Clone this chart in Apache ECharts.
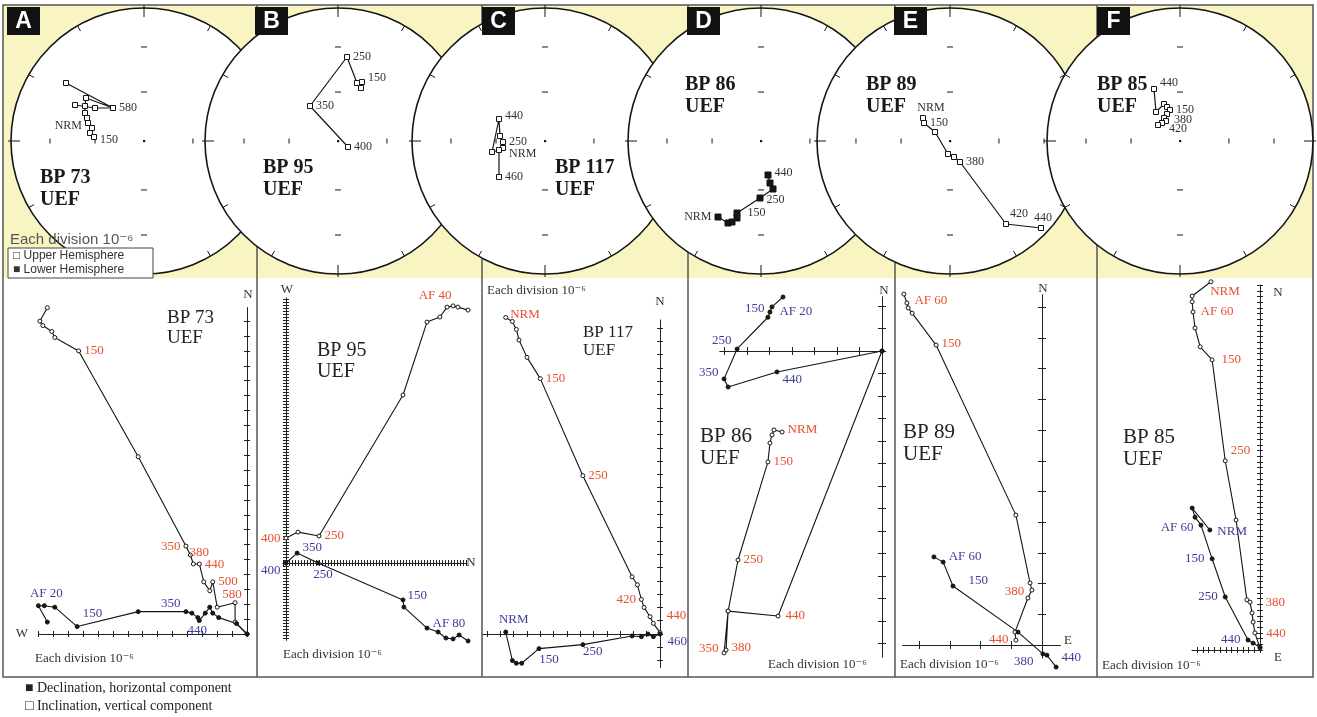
<!DOCTYPE html>
<html><head><meta charset="utf-8">
<script src="https://cdn.jsdelivr.net/npm/echarts@6/dist/echarts.min.js"></script>
<style>html,body{margin:0;padding:0;background:#fff}#c{width:1317px;height:717px}</style>
</head><body><div id="c"></div>
<script>
// ================= DATA =================
const panelLetters = ['A','B','C','D','E','F'];
const sampleNames = ['BP 73','BP 95','BP 117','BP 86','BP 89','BP 85'];
const siteName = 'UEF';
const divisionText = 'Each division 10\u207B\u2076';
const legendUpper = '\u25A1 Upper Hemisphere';
const legendLower = '\u25A0 Lower Hemisphere';
const legendDecl = '\u25A0 Declination, horizontal component';
const legendIncl = '\u25A1 Inclination, vertical component';

// ---- stereonets (equal-area positions, frame radius 133) ----
const stereoA = [[-78,58],[-31,33],[-58,43],[-59,35],[-59,28],[-57,23],[-56,18],[-52,13],[-54,8],[-50,4]];
const stereoA2 = [[-69,36],[-49,33],[-31,33]];
const stereoALabels = [[1,'580'],[6,'NRM'],[9,'150']];
const stereoB = [[23,53],[24,59],[19,58],[9,84],[-28,35],[10,-6]];
const stereoBLabels = [[1,'150'],[3,'250'],[4,'350'],[5,'400']];
const stereoC = [[-42,-7],[-42,-1],[-45,5],[-46,22],[-53,-11],[-46,-9],[-46,-36]];
const stereoCLabels = [[0,'NRM'],[1,'250'],[3,'440'],[6,'460']];
const stereoD = [[-43,-76],[-33,-82],[-29,-81],[-24,-77],[-24,-72],[-1,-57],[12,-48],[9,-42],[7,-34]];
const stereoDLabels = [[0,'NRM'],[4,'150'],[5,'250'],[8,'440']];
const stereoE = [[-27,23],[-26,18],[-15,9],[-2,-13],[4,-16],[10,-21],[56,-83],[91,-87]];
const stereoELabels = [[0,'NRM'],[1,'150'],[5,'380'],[6,'420'],[7,'440']];
const stereoF = [[-26,52],[-24,29],[-16,37],[-13,34],[-10,31],[-13,27],[-16,23],[-14,20],[-18,18],[-22,16]];
const stereoFLabels = [[0,'440'],[4,'150'],[7,'380'],[9,'420']];

// ---- Zijderveld diagrams (units = divisions) ----
const aVert = [[-13.4,21.9],[-13.9,21.0],[-13.7,20.7],[-13.1,20.3],[-12.9,19.9],[-11.3,19.0],[-7.3,11.9],[-4.1,5.9],[-3.8,5.3],[-3.6,4.7],[-3.2,4.7],[-2.9,3.5],[-2.5,2.9],[-2.3,3.5],[-2.0,1.8],[-0.8,2.1],[-0.8,0.8],[0,0]];
const aVertLabels = [[5,'150'],[7,'350'],[9,'380'],[10,'440'],[13,'500'],[15,'580']];
const aHor = [[-13.4,0.8],[-14.0,1.9],[-13.6,1.9],[-12.9,1.8],[-11.4,0.5],[-7.3,1.5],[-4.1,1.5],[-3.7,1.4],[-3.3,1.1],[-3.2,0.9],[-2.8,1.4],[-2.5,1.8],[-2.3,1.4],[-1.9,1.1],[-0.7,0.7],[0,0]];
const aHorLabels = [[1,'AF 20'],[4,'150'],[6,'350'],[9,'440']];

const bVert = [[60.7,84.3],[57.3,85.3],[55.7,85.7],[53.7,85.3],[51.3,82],[47,80.3],[39,56],[11,9],[4,10.3],[0,8.3]];
const bVertLabels = [[3,'AF 40'],[7,'250'],[9,'400']];
const bHor = [[60.7,-26],[57.7,-24],[55.7,-25.3],[53.3,-25],[50.7,-23],[47,-21.7],[39.3,-14.7],[39,-12.3],[10.7,0],[3.7,3.3],[0,0]];
const bHorLabels = [[5,'AF 80'],[7,'150'],[8,'250'],[9,'350'],[10,'400']];

const cVert = [[-11.6,23.8],[-11.1,23.5],[-10.8,22.9],[-10.6,22.1],[-10.0,20.8],[-9.0,19.2],[-5.8,11.9],[-2.1,4.3],[-1.7,3.7],[-1.4,2.6],[-1.2,2.0],[-0.75,1.3],[-0.5,0.8],[0,0.1]];
const cVertLabels = [[0,'NRM'],[5,'150'],[6,'250'],[9,'420'],[12,'440']];
const cHor = [[-11.6,0.15],[-11.1,-2.0],[-10.8,-2.2],[-10.4,-2.2],[-9.1,-1.1],[-5.8,-0.8],[-2.1,-0.15],[-1.4,-0.2],[-0.9,0],[-0.5,-0.2],[0,0]];
const cHorLabels = [[0,'NRM'],[4,'150'],[5,'250'],[10,'460']];

const dHor = [[-4.4,2.4],[-4.89,1.96],[-4.98,1.73],[-5.07,1.5],[-6.44,0.09],[-7.02,-1.24],[-6.84,-1.6],[-4.67,-0.93],[0,0]];
const dHorLabels = [[1,'150'],[2,'AF 20'],[4,'250'],[5,'350'],[7,'440']];
const dVert = [[-4.44,-3.6],[-4.8,-3.51],[-4.89,-3.73],[-4.98,-4.09],[-5.07,-4.93],[-6.4,-9.29],[-6.84,-11.56],[-7.02,-13.42],[-6.93,-13.29],[-6.84,-11.56],[-4.62,-11.78],[0,0]];
const dVertLabels = [[0,'NRM'],[4,'150'],[5,'250'],[7,'350'],[8,'380'],[10,'440']];

const eVert = [[-4.5,11.43],[-4.4,11.14],[-4.36,10.98],[-4.23,10.81],[-3.45,9.77],[-0.85,4.23],[-0.39,2.02],[-0.33,1.79],[-0.46,1.53],[-0.88,0.42],[-0.85,0.16]];
const eVertLabels = [[1,'AF 60'],[4,'150'],[7,'380'],[10,'440']];
const eHor = [[-3.52,2.87],[-3.22,2.7],[-2.9,1.92],[-0.78,0.42],[0.03,-0.29],[0.16,-0.33],[0.46,-0.72]];
const eHorLabels = [[1,'AF 60'],[2,'150'],[4,'380'],[6,'440']];

const fVert = [[-8.6,64.6],[-11.9,62.1],[-11.9,61.1],[-11.75,59.3],[-11.4,56.5],[-10.5,53.2],[-8.4,50.9],[-6.1,33.2],[-4.2,22.8],[-2.3,8.8],[-1.75,8.4],[-1.4,6.5],[-1.2,4.9],[-0.9,3.0],[0,0.35]];
const fVertLabels = [[0,'NRM'],[3,'AF 60'],[6,'150'],[7,'250'],[10,'380'],[13,'440']];
const fHor = [[-8.8,21.05],[-11.9,24.9],[-11.4,23.3],[-10.35,21.9],[-8.4,16.0],[-6.1,9.3],[-2.1,1.75],[-1.2,1.2],[0,0.5]];
const fHorLabels = [[0,'NRM'],[3,'AF 60'],[4,'150'],[5,'250'],[6,'440']];

// axis extents (divisions)
const zijXRange = [[-14,0],[-1,60.3],[-13.3,0.2],[-7.2,0],[-4.53,0.59],[-11.9,0.3]];
const zijYRange = [[0,21.9],[-25.7,88.3],[-2.5,23.6],[-13.6,2.4],[-0.42,11.4],[0,64]];
const zijAxisNames = [[['N','y'],['W','x']],[['W','y'],['N','x']],[['N','y']],[['N','y']],[['N','y'],['E','x']],[['N','y'],['E','x']]];

// ================= LAYOUT / STYLE =================
const SERIF = '"Liberation Serif","DejaVu Serif",serif';
const SANS = '"Liberation Sans","DejaVu Sans",sans-serif';
const RED = '#e8502f', BLUE = '#3c3d98', INK = '#151515';
const YELLOW = '#f9f5c3';
const CX = [144,338,545,761,950,1180], CY = 141, R = 133;
const DIVIDERS = [257,482,688,895,1097];
// Zijderveld origin (px) and px per division, tick length
const ZLAY = [
  {ox:247, oy:634, u:14.9, tl:3},
  {ox:286, oy:563, u:3,    tl:3},
  {ox:660, oy:634, u:13.3, tl:3},
  {ox:882, oy:351, u:22.5, tl:4},
  {ox:1042,oy:645, u:30.7, tl:4},
  {ox:1260,oy:650, u:5.7,  tl:3}
];
const stereoPlace = {
  A:[['right',0,0],['left',0,3],['right',0,3]],
  B:[['right',0,-4],['right',0,0],['right',0,0],['right',0,0]],
  C:[['right',0,6],['right',0,0],['right',0,-3],['right',0,0]],
  D:[['left',0,0],['right',4,0],['right',0,2],['right',0,-2]],
  E:[['top',8,2],['right',0,0],['right',0,0],['top',13,2],['top',2,2]],
  F:[['right',0,-6],['right',0,0],['right',2,-1],['right',5,4]]
};
const zijPlace = {
  aVert:[['right',0,0],['left',0,0],['top',6,1],['right',0,1],['right',0,0],['top',-3,4]],
  aHor:[['top',8,0],['right',0,-13],['left',0,-8],['bottom',-2,-2]],
  bVert:[['top',-12,0],['right',0,0],['left',0,0]],
  bHor:[['right',0,-5],['right',-1,-4],['bottom',5,0],['right',0,-6],['left',0,8]],
  cVert:[['right',-1,-3],['right',0,0],['right',0,0],['left',0,0],['right',8,-8]],
  cHor:[['top',8,0],['bottom',10,-1],['bottom',10,-5],['right',2,8]],
  dHor:[['left',-2,2],['right',4,0],['left',0,-8],['left',0,-6],['right',0,8]],
  dVert:[['right',0,-2],['right',0,0],['right',0,0],['left',0,-4],['right',0,-2],['right',2,0]],
  eVert:[['right',2,-2],['right',0,-1],['left',-2,2],['left',-2,-1]],
  eHor:[['right',0,-6],['right',10,-5],['left',-4,8],['right',0,-10]],
  fVert:[['bottom',14,-2],['right',2,0],['right',4,0],['right',0,-10],['right',10,0],['right',6,1]],
  fHor:[['right',2,2],['left',-2,2],['left',-2,0],['left',-2,0],['left',-2,0]]
};

function withLabels(points, labels, places, color, size) {
  return points.map((p, i) => {
    const k = labels.findIndex(l => l[0] === i);
    if (k < 0) return p;
    const pl = places[k] || ['right',0,0];
    return {value: p, label: {show: true, formatter: labels[k][1], position: pl[0], offset: [pl[1], pl[2]],
      distance: 3, color: color, fontSize: size, fontFamily: SERIF}};
  });
}

const grids = [], xAxes = [], yAxes = [], series = [], G = [];

// ---- stereonet grids ----
const stereoSets = [
  {pts: stereoA, lab: stereoALabels, pl: stereoPlace.A, filled:false, extra: stereoA2},
  {pts: stereoB, lab: stereoBLabels, pl: stereoPlace.B, filled:false},
  {pts: stereoC, lab: stereoCLabels, pl: stereoPlace.C, filled:false},
  {pts: stereoD, lab: stereoDLabels, pl: stereoPlace.D, filled:true},
  {pts: stereoE, lab: stereoELabels, pl: stereoPlace.E, filled:false},
  {pts: stereoF, lab: stereoFLabels, pl: stereoPlace.F, filled:false}
];
function stereoSeries(i, data, filled) {
  return {type:'line', xAxisIndex:i, yAxisIndex:i, data, symbol:'rect', symbolSize: filled ? 6 : 5,
    lineStyle:{color:INK, width:1.2}, itemStyle:{color: filled ? INK : '#fff', borderColor: INK, borderWidth:1},
    z:50, clip:false, silent:true, emphasis:{disabled:true}};
}
stereoSets.forEach((s, i) => {
  grids.push({left: CX[i]-R, top: CY-R, width: 2*R, height: 2*R, outerBoundsMode:'none', containLabel:false});
  xAxes.push({type:'value', gridIndex:i, min:-R, max:R, show:false});
  yAxes.push({type:'value', gridIndex:i, min:-R, max:R, show:false});
  series.push(stereoSeries(i, withLabels(s.pts, s.lab, s.pl, '#333', 12), s.filled));
  if (s.extra) series.push(stereoSeries(i, s.extra, s.filled));
});

// ---- Zijderveld grids ----
const zijSets = [
  {v: aVert, vl: aVertLabels, vp: zijPlace.aVert, h: aHor, hl: aHorLabels, hp: zijPlace.aHor},
  {v: bVert, vl: bVertLabels, vp: zijPlace.bVert, h: bHor, hl: bHorLabels, hp: zijPlace.bHor},
  {v: cVert, vl: cVertLabels, vp: zijPlace.cVert, h: cHor, hl: cHorLabels, hp: zijPlace.cHor},
  {v: dVert, vl: dVertLabels, vp: zijPlace.dVert, h: dHor, hl: dHorLabels, hp: zijPlace.dHor},
  {v: eVert, vl: eVertLabels, vp: zijPlace.eVert, h: eHor, hl: eHorLabels, hp: zijPlace.eHor},
  {v: fVert, vl: fVertLabels, vp: zijPlace.fVert, h: fHor, hl: fHorLabels, hp: zijPlace.fHor}
];
function intTicks(r) { const t = []; for (let v = Math.ceil(r[0]); v <= Math.floor(r[1]); v++) t.push(v); return t; }
zijSets.forEach((s, j) => {
  const L = ZLAY[j], xr = zijXRange[j], yr = zijYRange[j];
  const gi = 6 + j;
  grids.push({left: L.ox + xr[0]*L.u, top: L.oy - yr[1]*L.u, width: (xr[1]-xr[0])*L.u, height: (yr[1]-yr[0])*L.u,
    outerBoundsMode:'none', containLabel:false});
  const xi = xAxes.length, yi = yAxes.length;
  const ax = (r, pos, onIdx) => ({type:'value', gridIndex:gi, min:r[0], max:r[1], position:pos,
    axisLine:{show:true, onZero:true, onZeroAxisIndex:onIdx, lineStyle:{color:'#222', width:1}},
    axisTick:{show:true, inside:false, length:L.tl, customValues:intTicks(r), lineStyle:{color:'#222', width:1}},
    axisLabel:{show:false}, splitLine:{show:false}, splitArea:{show:false}});
  xAxes.push(ax(xr,'bottom',yi), ax(xr,'top',yi));
  yAxes.push(ax(yr,'left',xi), ax(yr,'right',xi));
  const mk = (data, open) => ({type:'line', xAxisIndex:xi, yAxisIndex:yi, data, symbol:'circle', symbolSize:4,
    showAllSymbol:true, lineStyle:{color:INK, width:1.1},
    itemStyle:{color: open ? '#fff' : INK, borderColor: INK, borderWidth:1}, z:50, clip:false, silent:true,
    emphasis:{disabled:true}});
  series.push(mk(withLabels(s.v, s.vl, s.vp, RED, 13), true));
  series.push(mk(withLabels(s.h, s.hl, s.hp, BLUE, 13), false));
});

// ================= GRAPHICS (frame, circles, text) =================
function txt(x, y, text, size, family, fill, weight, align, z) {
  return {type:'text', x, y, z: z || 30, silent:true,
    style:{text, fontSize:size, fontFamily:family, fontWeight:weight || 'normal', fill,
      align: align || 'left', verticalAlign:'middle', textAlign: align || 'left', textVerticalAlign:'middle'}};
}
function seg(x1, y1, x2, y2, z, w, c) {
  return {type:'line', silent:true, z, shape:{x1, y1, x2, y2}, style:{stroke: c || INK, lineWidth: w || 1}};
}
G.push({type:'rect', silent:true, z:1, shape:{x:3, y:5, width:1310, height:273}, style:{fill:YELLOW}});
DIVIDERS.forEach(x => G.push(seg(x, 5, x, 677, 5, 1.5, '#555')));
G.push({type:'rect', silent:true, z:5, shape:{x:3, y:5, width:1310, height:672}, style:{fill:'none', stroke:'#555', lineWidth:1.5}});

CX.forEach((cx, i) => {
  const zc = 10 + 2*i, zt = zc + 1;
  G.push({type:'circle', silent:true, z:zc, shape:{cx, cy:CY, r:R}, style:{fill:'#fff', stroke:INK, lineWidth:1.6}});
  for (let a = 0; a < 360; a += 30) {
    const rad = a * Math.PI / 180, s = Math.sin(rad), c = Math.cos(rad), card = a % 90 === 0;
    const r1 = card ? R - 9 : R - 6, r2 = card ? R + 3 : R;
    G.push(seg(cx + s*r1, CY - c*r1, cx + s*r2, CY - c*r2, zt, 1));
  }
  [0.368, 0.707].forEach(f => [-1, 1].forEach(sg => {
    const d = sg * f * R;
    G.push(seg(cx - 3, CY + d, cx + 3, CY + d, zt, 1));
    G.push(seg(cx + d, CY - 2.5, cx + d, CY + 2.5, zt, 1));
  }));
  G.push({type:'rect', silent:true, z:zt, shape:{x:cx-1, y:CY-1, width:2.2, height:2.2}, style:{fill:INK}});
});

// letter boxes
const boxX = [7,255,482,687,894,1097];
panelLetters.forEach((l, i) => {
  G.push({type:'rect', silent:true, z:40, shape:{x:boxX[i], y:7, width:33, height:28}, style:{fill:'#111'}});
  G.push(txt(boxX[i] + 16.5, 22, l, 23, SANS, '#fff', 'bold', 'center', 41));
});

// stereonet sample names (bold)
const stName = [[40,178],[263,168],[555,168],[685,85],[866,85],[1097,85]];
sampleNames.forEach((n, i) => {
  G.push(txt(stName[i][0], stName[i][1], n, 20, SERIF, '#1a1a1a', 'bold', 'left', 30));
  G.push(txt(stName[i][0], stName[i][1] + 22, siteName, 20, SERIF, '#1a1a1a', 'bold', 'left', 30));
});
// stereonet legend
G.push(txt(10, 240, divisionText, 15, SANS, '#555', 'normal', 'left', 31));
G.push({type:'rect', silent:true, z:31, shape:{x:8, y:248, width:145, height:30}, style:{fill:'#fff', stroke:'#444', lineWidth:1}});
G.push(txt(13, 256, legendUpper, 12, SANS, '#333', 'normal', 'left', 32));
G.push(txt(13, 270, legendLower, 12, SANS, '#333', 'normal', 'left', 32));

// Zijderveld sample names (regular)
const zName = [[167,318,19],[317,351,20],[583,333,17],[700,436,21],[903,432,21],[1123,437,21]];
sampleNames.forEach((n, i) => {
  const p = zName[i];
  G.push(txt(p[0], p[1], n, p[2], SERIF, '#222', 'normal', 'left', 30));
  G.push(txt(p[0], p[1] + p[2] + 1, siteName, p[2], SERIF, '#222', 'normal', 'left', 30));
});
// each division texts
const divPos = [[35,659],[283,655],[487,291],[768,665],[900,665],[1102,666]];
divPos.forEach(p => G.push(txt(p[0], p[1], divisionText, 13, SERIF, '#333', 'normal', 'left', 30)));
// axis letters
const axisLetterPos = [[[248,295],[22,634]],[[287,290],[471,563]],[[660,302]],[[884,291]],[[1043,289],[1068,641]],[[1278,293],[1278,658]]];
zijAxisNames.forEach((arr, j) => arr.forEach((a, k) => {
  const p = axisLetterPos[j][k];
  G.push(txt(p[0], p[1], a[0], 13, SERIF, '#333', 'normal', 'center', 30));
}));
// bottom legend
G.push(txt(25, 688, legendDecl, 14, SERIF, '#222', 'normal', 'left', 30));
G.push(txt(25, 706, legendIncl, 14, SERIF, '#222', 'normal', 'left', 30));

const chart = echarts.init(document.getElementById('c'), null, {renderer:'canvas'});
chart.setOption({
  backgroundColor:'#fff',
  animation:false,
  grid: grids,
  xAxis: xAxes,
  yAxis: yAxes,
  series: series,
  graphic: {elements: G}
});
</script></body></html>
